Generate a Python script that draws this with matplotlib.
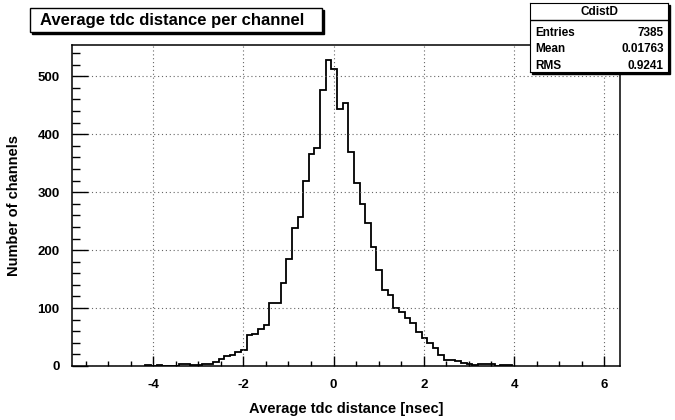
import numpy as np
import matplotlib
matplotlib.use("Agg")
import matplotlib.pyplot as plt
from matplotlib.patches import Rectangle

# histogram CdistD, bin width 0.125, first filled bin starts at -4.175
bin_width = 0.125
first_edge = -4.175
counts = [1, 0, 1, 0, 0, 0, 3, 3, 1, 2, 3, 4,
          7, 12, 18, 19, 24, 28, 53, 55, 64, 71,
          108, 108, 143, 185, 239, 257, 319, 366, 376,
          477, 528, 513, 444, 454, 370, 316, 280, 247, 206,
          166, 131, 123, 100, 94, 82, 74, 59, 48, 40,
          31, 19, 11, 10, 9, 5, 3, 2, 3, 3, 3, 0, 1, 1]
x_range = [-5.8, 6.35]
y_max = 554
x_ticks = [-4, -2, 0, 2, 4, 6]
y_ticks = [0, 100, 200, 300, 400, 500]

title = "Average tdc distance per channel"
x_title = "Average tdc distance [nsec]"
y_title = "Number of channels"
stats_name = "CdistD"
stats_rows = [("Entries", "7385"), ("Mean", "0.01763"), ("RMS", "0.9241")]

plt.rcParams['font.family'] = ['Liberation Sans', 'DejaVu Sans']
plt.rcParams['font.weight'] = 'bold'
plt.rcParams['axes.unicode_minus'] = False

W, H = 675, 420
fig = plt.figure(figsize=(W / 100, H / 100), dpi=100)
ax = fig.add_axes([72 / W, 1 - 366 / H, 548 / W, 321 / H])

edges = first_edge + bin_width * np.arange(len(counts) + 1)
ax.stairs(counts, edges, color="black", linewidth=1.3, baseline=0)

ax.set_xlim(*x_range)
ax.set_ylim(0, y_max)
ax.set_xticks(x_ticks)
ax.set_yticks(y_ticks)
ax.set_xticks(np.arange(-5.5, 6.4, 0.5), minor=True)
ax.set_yticks(np.arange(0, y_max, 20), minor=True)
ax.grid(True, which="major", linestyle=(0, (1, 2.5)), color="#666666", linewidth=0.8)

ax.tick_params(axis="x", which="major", direction="in", length=7.2, width=1, pad=9, labelsize=9.5)
ax.tick_params(axis="x", which="minor", direction="in", length=3.6, width=1)
ax.tick_params(axis="y", which="major", direction="in", length=11.5, width=1, pad=9, labelsize=9.5)
ax.tick_params(axis="y", which="minor", direction="in", length=5.8, width=1)
for lab in ax.get_xticklabels() + ax.get_yticklabels():
    lab.set_fontweight("bold")
for s in ax.spines.values():
    s.set_linewidth(1.1)

ax.set_xlabel(x_title, fontsize=10.5, fontweight="bold", labelpad=8)
ax.set_ylabel(y_title, fontsize=10.5, fontweight="bold", labelpad=12)

# title box with shadow
fig.add_artist(Rectangle((32 / W, 1 - 34 / H), 292 / W, 24 / H, transform=fig.transFigure,
                         facecolor="black", edgecolor="black"))
fig.add_artist(Rectangle((30 / W, 1 - 32 / H), 292 / W, 24 / H, transform=fig.transFigure,
                         facecolor="white", edgecolor="black", linewidth=1))
fig.text(172 / W, 1 - 20 / H, title, ha="center", va="center", fontsize=12, fontweight="bold")

# stats box
fig.add_artist(Rectangle((532 / W, 1 - 74 / H), 138 / W, 69 / H, transform=fig.transFigure,
                         facecolor="black", edgecolor="black", zorder=5))
sax = fig.add_axes([530 / W, 1 - 72 / H, 138 / W, 69 / H], zorder=6)
sax.set_xticks([])
sax.set_yticks([])
sax.set_xlim(0, 138)
sax.set_ylim(69, 0)
sax.axhline(17, color="black", linewidth=1)
sax.text(69, 9, stats_name, ha="center", va="center", fontsize=8.5, fontweight="bold")
for i, (k, v) in enumerate(stats_rows):
    y = 30 + i * 16.5
    sax.text(5, y, k, ha="left", va="center", fontsize=8.5, fontweight="bold")
    sax.text(134, y, v, ha="right", va="center", fontsize=8.5, fontweight="bold")

fig.savefig("out.png", dpi=100)
